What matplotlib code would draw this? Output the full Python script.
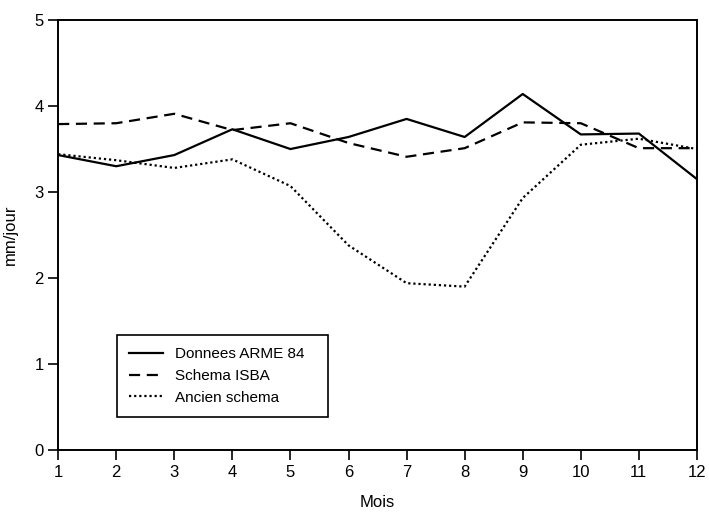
import matplotlib
matplotlib.use("Agg")
import matplotlib.pyplot as plt

plt.rcParams["font.family"] = ["Liberation Sans", "DejaVu Sans"]

mois = list(range(1, 13))
arme84 = [3.43, 3.30, 3.43, 3.73, 3.50, 3.64, 3.85, 3.64, 4.14, 3.67, 3.68, 3.15]
isba = [3.79, 3.80, 3.91, 3.72, 3.80, 3.57, 3.41, 3.51, 3.81, 3.80, 3.51, 3.51]
ancien = [3.44, 3.37, 3.28, 3.38, 3.07, 2.38, 1.94, 1.90, 2.93, 3.55, 3.62, 3.50]

fig = plt.figure(figsize=(7.09, 5.14), dpi=100)
ax = fig.add_axes([0.082, 0.1245, 0.901, 0.8365])

ax.plot(mois, arme84, "-", color="black", lw=1.6, label="Donnees ARME 84")
ax.plot(mois, isba, color="black", lw=1.6, linestyle=(0, (5, 3)), label="Schema ISBA")
ax.plot(mois, ancien, color="black", lw=1.6, linestyle=(0, (1, 1.3)), label="Ancien schema")

ax.set_xlim(1, 12)
ax.set_ylim(0, 5)
ax.set_xticks(mois)
ax.set_yticks(range(0, 6))
ax.tick_params(direction="out", length=7, width=1.2, labelsize=12, colors="black")
for s in ax.spines.values():
    s.set_linewidth(1.4)

ax.set_xlabel("Mois", fontsize=12, labelpad=11)
ax.set_ylabel("mm/jour", fontsize=12, labelpad=12)

leg = ax.legend(loc="lower left", bbox_to_anchor=(0.092, 0.077, 0.33, 0.2),
                mode="expand", borderaxespad=0, fancybox=False, edgecolor="black",
                framealpha=1, fontsize=11, handlelength=2.2, borderpad=0.8,
                labelspacing=0.5)
leg.get_frame().set_linewidth(1.2)

plt.savefig("out.png", dpi=100)
